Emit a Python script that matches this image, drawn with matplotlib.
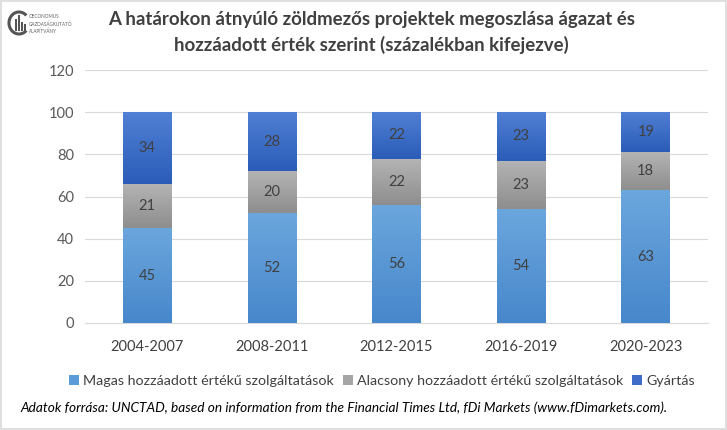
import matplotlib
matplotlib.use("Agg")
import matplotlib.pyplot as plt
import matplotlib.patches as mpatches
import numpy as np

plt.rcParams['font.family'] = ['Lato', 'DejaVu Sans']

categories = ["2004-2007", "2008-2011", "2012-2015", "2016-2019", "2020-2023"]
magas = [45, 52, 56, 54, 63]
alacsony = [21, 20, 22, 23, 18]
gyartas = [34, 28, 22, 23, 19]
series_names = ["Magas hozzáadott értékű szolgáltatások",
                "Alacsony hozzáadott értékű szolgáltatások",
                "Gyártás"]
colors = ["#5b9bd8", "#a5a5a5", "#3e6cc8"]
grad_top = ["#6ba6dd", "#b4b4b4", "#5080d4"]
grad_bot = ["#4787cb", "#8e8e8e", "#2b5cb8"]
yticks = [0, 20, 40, 60, 80, 100, 120]

def hex2rgb(h):
    h = h.lstrip("#")
    return np.array([int(h[i:i+2], 16) / 255 for i in (0, 2, 4)])

fig = plt.figure(figsize=(7.27, 4.30), dpi=100)
fig.patch.set_facecolor("white")
ax = fig.add_axes([85/727, 1-323/430, 623/727, 253/430])

x = np.arange(len(categories))
w = 0.39
bottom = np.zeros(len(categories))
for vals, c, name, gt, gb in zip([magas, alacsony, gyartas], colors, series_names, grad_top, grad_bot):
    bars = ax.bar(x, vals, w, bottom=bottom, color=c, label=name, zorder=3)
    t, b_ = hex2rgb(gt), hex2rgb(gb)
    grad = np.linspace(0, 1, 64)[:, None, None]
    img = t * (1 - grad) + b_ * grad  # row 0 = top
    for bar in bars:
        x0, y0 = bar.get_x(), bar.get_y()
        bw, bh = bar.get_width(), bar.get_height()
        im = ax.imshow(img, extent=[x0, x0 + bw, y0, y0 + bh], origin="upper",
                       aspect="auto", zorder=3.1, interpolation="bilinear")
        im.set_clip_path(bar)
    for xi, b, v in zip(x, bottom, vals):
        ax.text(xi, b + v/2, str(v), ha="center", va="center", fontsize=10.5, color="#404040", zorder=4)
    bottom = bottom + np.array(vals)

ax.set_xlim(-0.5, len(categories)-0.5)
ax.set_ylim(0, 120)
ax.set_yticks(yticks)
ax.set_yticklabels([str(t) for t in yticks], fontsize=10.5, color="#595959")
ax.set_xticks(x)
ax.set_xticklabels(categories, fontsize=10.5, color="#404040")
ax.tick_params(axis="both", length=0, pad=8)
ax.tick_params(axis="x", pad=12)
ax.grid(axis="y", color="#d9d9d9", linewidth=0.8, zorder=0)
for s in ["top", "right", "left"]:
    ax.spines[s].set_visible(False)
ax.spines["bottom"].set_color("#d9d9d9")

fig.text(0.511, 1-20/430, "A határokon átnyúló zöldmezős projektek megoszlása ágazat és",
         ha="center", va="center", fontsize=13.4, fontweight="bold", color="#404040")
fig.text(0.511, 1-45/430, "hozzáadott érték szerint (százalékban kifejezve)",
         ha="center", va="center", fontsize=13.4, fontweight="bold", color="#404040")

handles, labels = ax.get_legend_handles_labels()
fig.legend(handles, labels, loc="center", bbox_to_anchor=(382/727, 1-381/430), ncol=3,
           frameon=False, fontsize=10.3, handlelength=0.7, handleheight=0.7,
           handletextpad=0.3, columnspacing=0.6, labelcolor="#404040")

fig.text(20/727, 1-408/430,
         "Adatok forrása: UNCTAD, based on information from the Financial Times Ltd, fDi Markets (www.fDimarkets.com).",
         ha="left", va="center", fontsize=9.8, style="italic", color="black")

# logo
fig.text(29/727, 1-24/430, "OECONOMUS\nGAZDASÁGKUTATÓ\nALAPÍTVÁNY", ha="left", va="center",
         fontsize=3.3, color="#606060", linespacing=1.4)
arc = mpatches.Arc((19/727, 1-23/430), 20/727, 22/430, theta1=60, theta2=300,
                   transform=fig.transFigure, color="#555555", linewidth=2.2)
fig.add_artist(arc)
for i, hgt in enumerate([12, 16, 9, 7]):
    fig.add_artist(mpatches.Rectangle(((15 + i*3)/727, 1-31/430), 2/727, hgt/430,
                                      transform=fig.transFigure, color="#555555", lw=0))

# border
fig.add_artist(plt.Rectangle((0.001, 0.002), 0.997, 0.995, transform=fig.transFigure,
                             fill=False, edgecolor="#d9d9d9", linewidth=1.2))

fig.savefig("out.png", dpi=100, facecolor="white")
